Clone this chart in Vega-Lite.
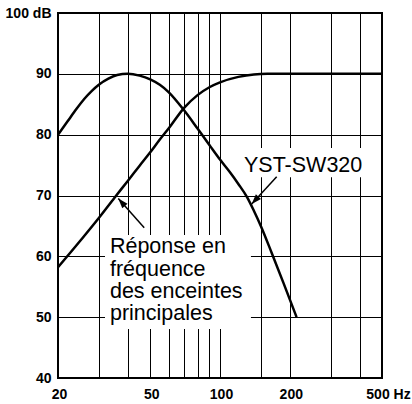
{
  "$schema": "https://vega.github.io/schema/vega-lite/v6.json",
  "width": 324,
  "height": 365,
  "autosize": {"type": "none"},
  "padding": {"left": 58, "top": 13, "right": 30, "bottom": 26},
  "background": "white",
  "config": {"view": {"stroke": "#000", "strokeWidth": 2}, "font": "Liberation Sans"},
  "datasets": {
    "curves": [
      {"s": "sub", "f": 20, "db": 80},
      {"s": "sub", "f": 22, "db": 82.2},
      {"s": "sub", "f": 24, "db": 84.2},
      {"s": "sub", "f": 26, "db": 85.9},
      {"s": "sub", "f": 28, "db": 87.2},
      {"s": "sub", "f": 30, "db": 88.2},
      {"s": "sub", "f": 33, "db": 89.2},
      {"s": "sub", "f": 36, "db": 89.8},
      {"s": "sub", "f": 40, "db": 90},
      {"s": "sub", "f": 45, "db": 89.7},
      {"s": "sub", "f": 50, "db": 89.1},
      {"s": "sub", "f": 55, "db": 88.2},
      {"s": "sub", "f": 60, "db": 87.0},
      {"s": "sub", "f": 70, "db": 84.0},
      {"s": "sub", "f": 80, "db": 81.0},
      {"s": "sub", "f": 90, "db": 78.3},
      {"s": "sub", "f": 100, "db": 75.9},
      {"s": "sub", "f": 110, "db": 73.9},
      {"s": "sub", "f": 120, "db": 71.9},
      {"s": "sub", "f": 131, "db": 69.7},
      {"s": "sub", "f": 140, "db": 67.5},
      {"s": "sub", "f": 150, "db": 65},
      {"s": "sub", "f": 167, "db": 60.6},
      {"s": "sub", "f": 188, "db": 55.6},
      {"s": "sub", "f": 214, "db": 50},
      {"s": "main", "f": 20, "db": 58.2},
      {"s": "main", "f": 25, "db": 62.6},
      {"s": "main", "f": 30, "db": 66.3},
      {"s": "main", "f": 35, "db": 69.6},
      {"s": "main", "f": 40, "db": 72.4},
      {"s": "main", "f": 45, "db": 74.9},
      {"s": "main", "f": 50, "db": 77.1},
      {"s": "main", "f": 55, "db": 79.2},
      {"s": "main", "f": 60, "db": 81.0},
      {"s": "main", "f": 70, "db": 84.4},
      {"s": "main", "f": 80, "db": 86.5},
      {"s": "main", "f": 90, "db": 87.8},
      {"s": "main", "f": 100, "db": 88.6},
      {"s": "main", "f": 120, "db": 89.5},
      {"s": "main", "f": 140, "db": 89.9},
      {"s": "main", "f": 160, "db": 90},
      {"s": "main", "f": 200, "db": 90},
      {"s": "main", "f": 500, "db": 90}
    ],
    "boxes": [
      {"f": 116, "f2": 457, "db": 77.8, "db2": 73.0},
      {"f": 31.9, "f2": 136, "db": 63.5, "db2": 48.05}
    ],
    "arrows": [
      {"id": "sub", "f": 175.6, "db": 73.1, "f2": 137, "db2": 68.6},
      {"id": "main", "f": 47.1, "db": 64.7, "f2": 36.4, "db2": 69.5}
    ],
    "labels": [
      {"t": "YST-SW320", "f": 126.9, "db": 73.9},
      {"t": "Réponse en", "f": 33.5, "db": 60.5},
      {"t": "fréquence", "f": 33.5, "db": 56.8},
      {"t": "des enceintes", "f": 33.5, "db": 53.2},
      {"t": "principales", "f": 33.5, "db": 49.6}
    ]
  },
  "layer": [
    {
      "data": {"name": "boxes"},
      "mark": {"type": "rect", "fill": "white", "stroke": null},
      "encoding": {
        "x": {
          "field": "f", "type": "quantitative",
          "scale": {"type": "log", "domain": [20, 500], "nice": false},
          "axis": {
            "title": null,
            "values": [20, 30, 40, 50, 60, 70, 80, 90, 100, 150, 200, 300, 400, 500],
            "labelExpr": "datum.value == 500 ? '500 Hz' : ((datum.value == 20 || datum.value == 50 || datum.value == 100 || datum.value == 200) ? '' + datum.value : '')",
            "labelFont": "Liberation Sans",
            "labelFontWeight": "bold",
            "labelFontSize": 14,
            "labelColor": "#000",
            "labelPadding": 9,
            "labelFlush": false,
            "labelOverlap": false,
            "labelBound": false,
            "labelOffset": {"condition": {"test": "datum.value == 500", "value": 6}, "value": 1},
            "ticks": false,
            "domain": false,
            "grid": true,
            "gridColor": "#000",
            "gridWidth": 1,
            "gridOpacity": 1
          }
        },
        "x2": {"field": "f2"},
        "y": {
          "field": "db", "type": "quantitative",
          "scale": {"domain": [40, 100], "nice": false, "zero": false},
          "axis": {
            "title": null,
            "values": [40, 45, 50, 55, 60, 65, 70, 75, 80, 85, 90, 95, 100],
            "labelExpr": "datum.value == 100 ? '100 dB' : (datum.value % 10 == 0 ? '' + datum.value : '')",
            "labelFont": "Liberation Sans",
            "labelFontWeight": "bold",
            "labelFontSize": 14,
            "labelColor": "#000",
            "labelPadding": 7,
            "labelFlush": false,
            "labelOverlap": false,
            "labelBound": false,
            "ticks": false,
            "domain": false,
            "grid": true,
            "gridColor": "#000",
            "gridWidth": 1,
            "gridOpacity": 1
          }
        },
        "y2": {"field": "db2"}
      }
    },
    {
      "data": {"name": "curves"},
      "mark": {"type": "line", "interpolate": "monotone", "color": "#000", "strokeWidth": 2.5},
      "encoding": {
        "x": {"field": "f", "type": "quantitative", "title": null},
        "y": {"field": "db", "type": "quantitative", "title": null},
        "detail": {"field": "s"}
      }
    },
    {
      "data": {"name": "arrows"},
      "mark": {"type": "rule", "color": "#000", "strokeWidth": 1.5},
      "encoding": {
        "x": {"field": "f", "type": "quantitative", "title": null},
        "y": {"field": "db", "type": "quantitative", "title": null},
        "x2": {"field": "f2"},
        "y2": {"field": "db2"}
      }
    },
    {
      "data": {"name": "arrows"},
      "transform": [{"filter": "datum.id == 'sub'"}],
      "mark": {"type": "point", "shape": "M0,0L-0.7,2L0.7,2Z", "filled": true, "color": "#000", "opacity": 1, "size": 100, "angle": 222.5},
      "encoding": {
        "x": {"field": "f2", "type": "quantitative", "title": null},
        "y": {"field": "db2", "type": "quantitative", "title": null}
      }
    },
    {
      "data": {"name": "arrows"},
      "transform": [{"filter": "datum.id == 'main'"}],
      "mark": {"type": "point", "shape": "M0,0L-0.7,2L0.7,2Z", "filled": true, "color": "#000", "opacity": 1, "size": 100, "angle": 318.5},
      "encoding": {
        "x": {"field": "f2", "type": "quantitative", "title": null},
        "y": {"field": "db2", "type": "quantitative", "title": null}
      }
    },
    {
      "data": {"name": "labels"},
      "mark": {"type": "text", "align": "left", "baseline": "alphabetic", "font": "Liberation Sans", "fontSize": 21.5, "color": "#000"},
      "encoding": {
        "x": {"field": "f", "type": "quantitative", "title": null},
        "y": {"field": "db", "type": "quantitative", "title": null},
        "text": {"field": "t"}
      }
    }
  ]
}
